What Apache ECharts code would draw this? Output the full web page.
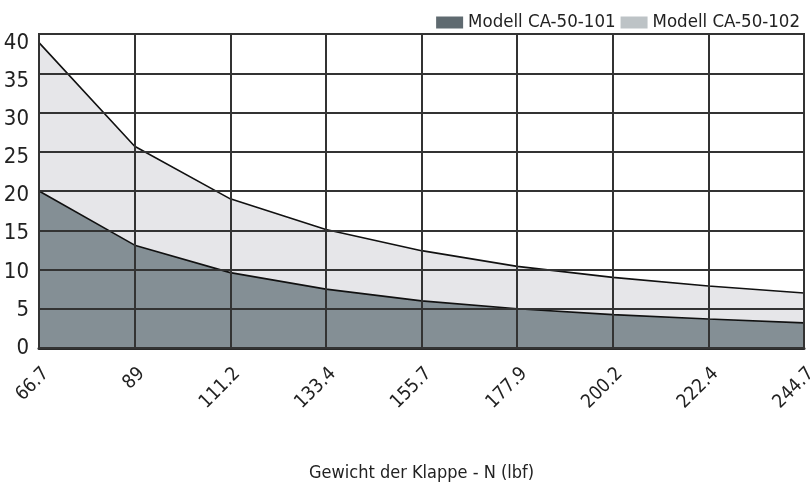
<!DOCTYPE html>
<html>
<head>
<meta charset="utf-8">
<script src="https://cdn.jsdelivr.net/npm/echarts@6/dist/echarts.min.js"></script>
<style>
  html, body { margin: 0; padding: 0; background: #fff; }
  #chart { width: 810px; height: 484px; }
</style>
</head>
<body>
<div id="chart"></div>
<script>
// Gewicht der Klappe - N (lbf)
const categories = ['66.7', '89', '111.2', '133.4', '155.7', '177.9', '200.2', '222.4', '244.7']
// Modell CA-50-101 (dunkel)
const model101 = [20.0, 13.1, 9.6, 7.5, 6.0, 5.0, 4.25, 3.7, 3.2]
// Modell CA-50-102 (hell)
const model102 = [38.9, 25.7, 19.0, 15.1, 12.4, 10.4, 9.0, 7.9, 7.0]
const yTicks = [0, 5, 10, 15, 20, 25, 30, 35, 40]

const FONT = '"DejaVu Sans Condensed", "Liberation Sans Narrow", sans-serif'

let myChart = echarts.init(document.getElementById('chart'), null, { renderer: 'canvas' })

let options = {
    animation: false,
    textStyle: { fontFamily: FONT },
    legend: {
        right: 5,
        top: 8,
        itemWidth: 27,
        itemHeight: 12,
        itemGap: 5,
        icon: 'rect',
        textStyle: { fontFamily: FONT, fontSize: 18.5, color: '#222' },
        data: [
            { name: 'Modell CA-50-101', itemStyle: { color: '#5f6a70' } },
            { name: 'Modell CA-50-102', itemStyle: { color: '#bdc3c6' } }
        ]
    },
    grid: {
        left: 39,
        right: 6,
        top: 34,
        bottom: 136,
        outerBoundsMode: 'none',
        containLabel: false,
        show: true,
        borderColor: '#333',
        borderWidth: 2,
        z: 5
    },
    xAxis: {
        type: 'category',
        data: categories,
        boundaryGap: false,
        z: 4,
        name: 'Gewicht der Klappe - N (lbf)',
        nameLocation: 'middle',
        nameGap: 116,
        nameTextStyle: { fontFamily: FONT, fontSize: 18, color: '#222' },
        axisLine: { show: true, lineStyle: { color: '#2a2a2a', width: 3 } },
        axisTick: { show: false },
        splitLine: { show: true, lineStyle: { color: '#333', width: 2 } },
        axisLabel: {
            rotate: 45,
            margin: 30,
            padding: [0, -10, 0, 0],
            fontFamily: FONT,
            fontSize: 19,
            color: '#222'
        }
    },
    yAxis: [
        {
            // Datenachse mit Gitterlinien
            type: 'value',
            min: yTicks[0],
            max: yTicks[yTicks.length - 1],
            interval: 5,
            z: 4,
            axisLine: { show: true, lineStyle: { color: '#2a2a2a', width: 2 } },
            axisTick: { show: false },
            splitLine: { show: true, lineStyle: { color: '#333', width: 2 } },
            axisLabel: { show: false }
        },
        {
            // nur Beschriftung, leicht gestaucht wie im Original
            type: 'value',
            position: 'left',
            min: 0,
            max: 41.2,
            z: 4,
            axisLine: { show: false },
            axisTick: { show: false },
            splitLine: { show: false },
            axisLabel: {
                customValues: yTicks,
                margin: 10,
                fontFamily: FONT,
                fontSize: 22,
                color: '#222'
            }
        }
    ],
    series: [
        {
            name: 'Modell CA-50-102',
            type: 'line',
            data: model102,
            showSymbol: false,
            color: '#bdc3c6',
            lineStyle: { color: '#111', width: 1.6 },
            areaStyle: { color: '#e6e6e9', opacity: 1 },
            z: 2
        },
        {
            name: 'Modell CA-50-101',
            type: 'line',
            data: model101,
            showSymbol: false,
            color: '#5f6a70',
            lineStyle: { color: '#111', width: 1.6 },
            areaStyle: { color: '#848f95', opacity: 1 },
            z: 3
        }
    ]
}

myChart.setOption(options)
</script>
</body>
</html>
